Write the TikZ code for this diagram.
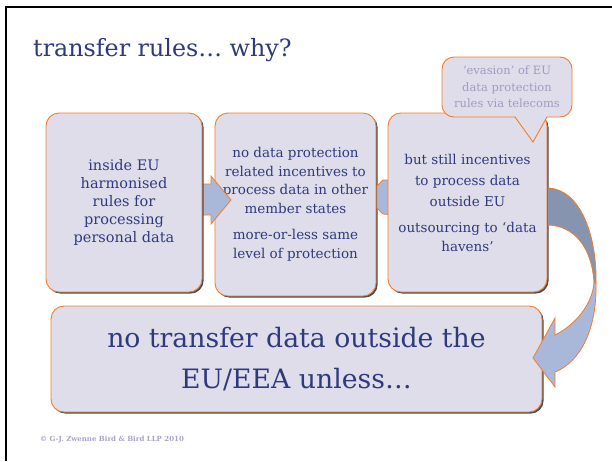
\documentclass[tikz,border=0pt]{standalone}
\usepackage{fontspec}
\setmainfont{DejaVu Serif}
\usetikzlibrary{shadows}
\definecolor{navy}{HTML}{2F3A7E}
\definecolor{lav}{HTML}{DFDDEA}
\definecolor{orangeB}{HTML}{F47D2A}
\definecolor{calltext}{HTML}{A09CC2}
\definecolor{foot}{HTML}{A7A3C9}
\definecolor{alight}{HTML}{A9B8D9}
\definecolor{adark}{HTML}{8794AF}
\begin{document}
\begin{tikzpicture}[x=1pt,y=-1pt,
  box/.style={draw=orangeB, line width=0.9pt, fill=lav, rounded corners=13pt,
    drop shadow={shadow xshift=1.6pt, shadow yshift=-1.6pt, fill=black!70, opacity=1},
    text=navy, align=center, inner sep=0pt},
  blockarrow/.style={draw=orangeB, line width=0.8pt, fill=alight, line join=miter}]
\useasboundingbox (0,0) rectangle (612,461);
\fill[white] (0,0) rectangle (612,461);
\draw[line width=2.5pt] (612,7) -- (6,7) -- (6,461);
\node[anchor=base west, text=navy, font=\fontsize{23.8}{28}\selectfont, inner sep=0pt] (title) at (33,56) {transfer rules… why?};
% box 2
\node[box, minimum width=161pt, minimum height=183pt, font=\fontsize{13.5}{18.5}\selectfont] (b2) at (295.5,204.5)
 {no data protection\\related incentives to\\process data in other\\member states\\[8pt]more-or-less same\\level of protection};
% arrow 1
\draw[blockarrow] (195,184) -- (211,184) -- (211,176) -- (231,200) -- (211,224) -- (211,215) -- (195,215) -- cycle;
% box 1
\node[box, minimum width=156pt, minimum height=179pt, font=\fontsize{14.5}{18}\selectfont] (b1) at (124,202.5)
 {inside EU\\harmonised\\rules for\\processing\\personal data};
% arrow 2
\draw[blockarrow] (377,186) -- (383,180) -- (395,180) -- (395,215) -- (383,214) -- (377,208) -- cycle;
% box 3
\node[box, minimum width=159pt, minimum height=179pt, font=\fontsize{13.5}{21}\selectfont] (b3) at (467.5,202.5)
 {but still incentives\\to process data\\outside EU\\[5pt]outsourcing to ‘data\\[-2pt]havens’};
% callout
\node[draw=orangeB, line width=0.9pt, fill=lav, rounded corners=12pt, minimum width=130pt, minimum height=60pt,
  inner sep=0pt, align=center, text=calltext, font=\fontsize{11.5}{16.5}\selectfont] (co) at (507,87)
 {‘evasion’ of EU\\data protection\\rules via telecoms};
\fill[lav] (515,115.5) -- (533,142) -- (547,115.5) -- cycle;
\draw[draw=orangeB, line width=0.9pt, line join=miter] (515,117) -- (533,142) -- (547,117);
% bottom box
\node[box, minimum width=491pt, minimum height=106pt, font=\fontsize{26.7}{41}\selectfont] (b4) at (296.5,359)
 {no transfer data outside the\\EU/EEA unless…};
% curved arrow
\filldraw[fill=adark, draw=orangeB, line width=0.8pt] (548,188) .. controls (580,189) and (597,235) .. (596,283)
  -- (594,283) .. controls (592,248) and (575,226) .. (548,225);
\filldraw[fill=alight, draw=orangeB, line width=0.8pt, line join=miter] (596,283) .. controls (597,330) and (580,362) .. (555,372)
  -- (555,387) -- (533,358) -- (555,318) -- (555,335) .. controls (575,325) and (592,305) .. (594,283) -- cycle;
% footer
\node[anchor=base west, inner sep=0pt, text=foot, font=\bfseries\fontsize{7}{8}\selectfont] (foot) at (40,441)
 {© G-J. Zwenne Bird \& Bird LLP 2010};
\end{tikzpicture}
\end{document}
